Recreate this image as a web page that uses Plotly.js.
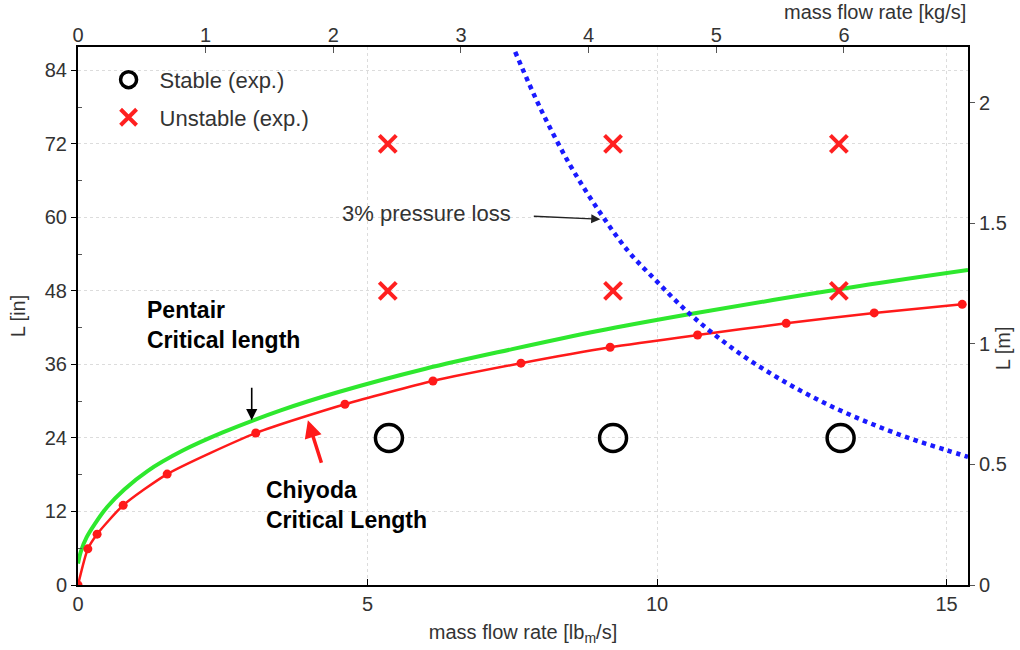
<!DOCTYPE html>
<html>
<head>
<meta charset="utf-8">
<script src="https://cdn.plot.ly/plotly-3.0.1.min.js"></script>
<style>html,body{margin:0;padding:0;background:#fff;}#chart{width:1020px;height:650px;}</style>
</head>
<body>
<div id="chart"></div>
<script>
// ---- data (mass flow rate in lbm/s, length L in inches) ----
const chiyodaX = [0, 0.17, 0.33, 0.78, 1.54, 3.07, 4.61, 6.13, 7.65, 9.19, 10.7, 12.23, 13.75, 15.27];
const chiyodaY = [0, 5.9, 8.3, 13.0, 18.1, 24.8, 29.5, 33.3, 36.2, 38.8, 40.8, 42.7, 44.4, 45.8];

const pentairX = [0, 0.05, 0.15, 0.3, 0.5, 0.8, 1.2, 1.8, 2.5, 3.5, 4.5, 6, 7.5, 9, 10.5, 12, 13.5, 15.37];
const pentairY = [3.5, 5.5, 7.8, 10.1, 12.7, 15.6, 18.6, 21.9, 24.9, 28.5, 31.5, 35.3, 38.5, 41.5, 44.1, 46.5, 48.8, 51.4];

const lossX = [7.55, 8, 8.5, 9, 9.5, 10, 10.5, 11, 11.5, 12, 12.5, 13, 13.5, 14, 14.5, 15, 15.37];
const lossY = [87, 77.5, 68.5, 61, 54.5, 49.5, 44.8, 40.8, 37.3, 34.3, 31.6, 29.2, 27.1, 25.2, 23.5, 22, 20.9];

const stableX = [5.37, 9.24, 13.17];
const stableY = [24, 24, 24];
const unstableX = [5.35, 9.24, 13.14, 5.35, 9.24, 13.14];
const unstableY = [72, 72, 72, 48, 48, 48];

const xTicks = [0, 5, 10, 15];
const yTicks = [0, 12, 24, 36, 48, 60, 72, 84];
const x2Ticks = [0, 1, 2, 3, 4, 5, 6];
const y2Ticks = [0, 0.5, 1, 1.5, 2];

const XMAX = 15.37, YMAX = 87.8;
const LB_TO_KG = 0.45359, IN_TO_M = 0.0254;

const FONT = 'Liberation Sans, Arial, sans-serif';
const TICKFONT = {family: FONT, size: 20, color: '#333'};
const TITLEFONT = {family: FONT, size: 20, color: '#333'};
const GRID = '#dcdcdc';

const traces = [
  {x: pentairX, y: pentairY, mode: 'lines', line: {color: '#2ee82e', width: 4, shape: 'spline'}, showlegend: false, hoverinfo: 'skip'},
  {x: chiyodaX, y: chiyodaY, mode: 'lines+markers', line: {color: '#ff1a1a', width: 2.5, shape: 'spline', smoothing: 0.6},
   marker: {color: '#ff1a1a', size: 9}, showlegend: false, hoverinfo: 'skip'},
  {x: lossX, y: lossY, mode: 'lines', line: {color: '#1a1aff', width: 4.5, dash: 'dot', shape: 'spline'}, showlegend: false, hoverinfo: 'skip'},
  {x: stableX, y: stableY, mode: 'markers', name: 'Stable (exp.)', legendgroup: 'a',
   marker: {symbol: 'circle-open', size: 27, color: '#000', line: {width: 3.5, color: '#000'}}},
  {x: unstableX, y: unstableY, mode: 'markers', name: 'Unstable (exp.)', legendgroup: 'b',
   marker: {symbol: 'x-thin-open', size: 17, color: '#ff2020', line: {width: 4, color: '#ff2020'}}},
  {x: [], y: [], xaxis: 'x2', yaxis: 'y2', showlegend: false, hoverinfo: 'skip'}
];

const layout = {
  width: 1020, height: 650,
  margin: {l: 78, r: 52, t: 47, b: 65},
  paper_bgcolor: '#fff', plot_bgcolor: '#fff',
  font: {family: FONT, size: 20, color: '#333'},
  showlegend: true,
  legend: {x: 0.022, y: 0.978, xanchor: 'left', yanchor: 'top', bgcolor: 'rgba(0,0,0,0)',
           font: {family: FONT, size: 22, color: '#333'}, tracegroupgap: 6, itemwidth: 52},
  xaxis: {range: [0, XMAX], tickvals: xTicks, ticks: 'inside', ticklen: 6, tickcolor: '#000',
          showline: true, linecolor: '#000', linewidth: 2, mirror: false, zeroline: false,
          showgrid: true, gridcolor: GRID, griddash: 'dot', gridwidth: 1,
          tickfont: TICKFONT,
          title: {text: 'mass flow rate [lb<sub>m</sub>/s]', font: TITLEFONT, standoff: 11}},
  yaxis: {range: [0, YMAX], tickvals: yTicks, ticks: 'outside', ticklen: 5, tickcolor: '#000',
          minor: {tickvals: [6, 18, 30, 42, 54, 66, 78], ticks: 'inside', ticklen: 4, tickcolor: '#555', showgrid: false},
          showline: true, linecolor: '#000', linewidth: 2, zeroline: false,
          showgrid: true, gridcolor: GRID, griddash: 'dot', gridwidth: 1,
          tickfont: TICKFONT,
          title: {text: 'L [in]', font: TITLEFONT, standoff: 14}},
  xaxis2: {overlaying: 'x', side: 'top', anchor: 'y', range: [0, XMAX * LB_TO_KG], tickvals: x2Ticks,
           ticks: 'inside', ticklen: 6, tickcolor: '#555', showline: true, linecolor: '#000', linewidth: 2,
           showgrid: false, zeroline: false, tickfont: TICKFONT, ticklabelstandoff: -5},
  yaxis2: {overlaying: 'y', side: 'right', anchor: 'x', range: [0, YMAX * IN_TO_M], tickvals: y2Ticks,
           ticks: 'outside', ticklen: 5, tickcolor: '#555', showline: true, linecolor: '#000', linewidth: 2,
           showgrid: false, zeroline: false, tickfont: TICKFONT},
  annotations: [
    {xref: 'paper', yref: 'paper', x: 1, y: 1, xanchor: 'right', yanchor: 'bottom', yshift: 22,
     text: 'mass flow rate [kg/s]', showarrow: false, font: TITLEFONT},
    {xref: 'paper', yref: 'paper', x: 1.0393, y: 0.44, xanchor: 'center', yanchor: 'middle', textangle: -90,
     text: 'L [m]', showarrow: false, font: TITLEFONT},
    {xref: 'x', yref: 'y', x: 1.15, y: 42.5, xanchor: 'left', yanchor: 'middle', align: 'left',
     text: '<b>Pentair<br>Critical length</b>', showarrow: false, font: {family: FONT, size: 23, color: '#000'}},
    {xref: 'x', yref: 'y', x: 3.0, y: 26.9, ax: 0, ay: -34, text: '', showarrow: true,
     arrowhead: 2, arrowsize: 1.4, arrowwidth: 1.6, arrowcolor: '#000'},
    {xref: 'x', yref: 'y', x: 3.22, y: 13.1, xanchor: 'left', yanchor: 'middle', align: 'left',
     text: '<b>Chiyoda<br>Critical Length</b>', showarrow: false, font: {family: FONT, size: 23, color: '#000'}},
    {xref: 'x', yref: 'y', x: 3.97, y: 26.9, ax: 14, ay: 44, text: '', showarrow: true,
     arrowhead: 2, arrowsize: 1, arrowwidth: 3.5, arrowcolor: '#ff1a1a'},
    {xref: 'x', yref: 'y', x: 4.52, y: 60.7, xanchor: 'left', yanchor: 'middle',
     text: '3% pressure loss', showarrow: false, font: {family: FONT, size: 22, color: '#333'}},
    {xref: 'x', yref: 'y', x: 9.02, y: 59.7, ax: -68, ay: -3, text: '', showarrow: true,
     arrowhead: 2, arrowsize: 1.3, arrowwidth: 1.4, arrowcolor: '#222'}
  ]
};

Plotly.newPlot('chart', traces, layout, {displayModeBar: false, staticPlot: true});
</script>
</body>
</html>
